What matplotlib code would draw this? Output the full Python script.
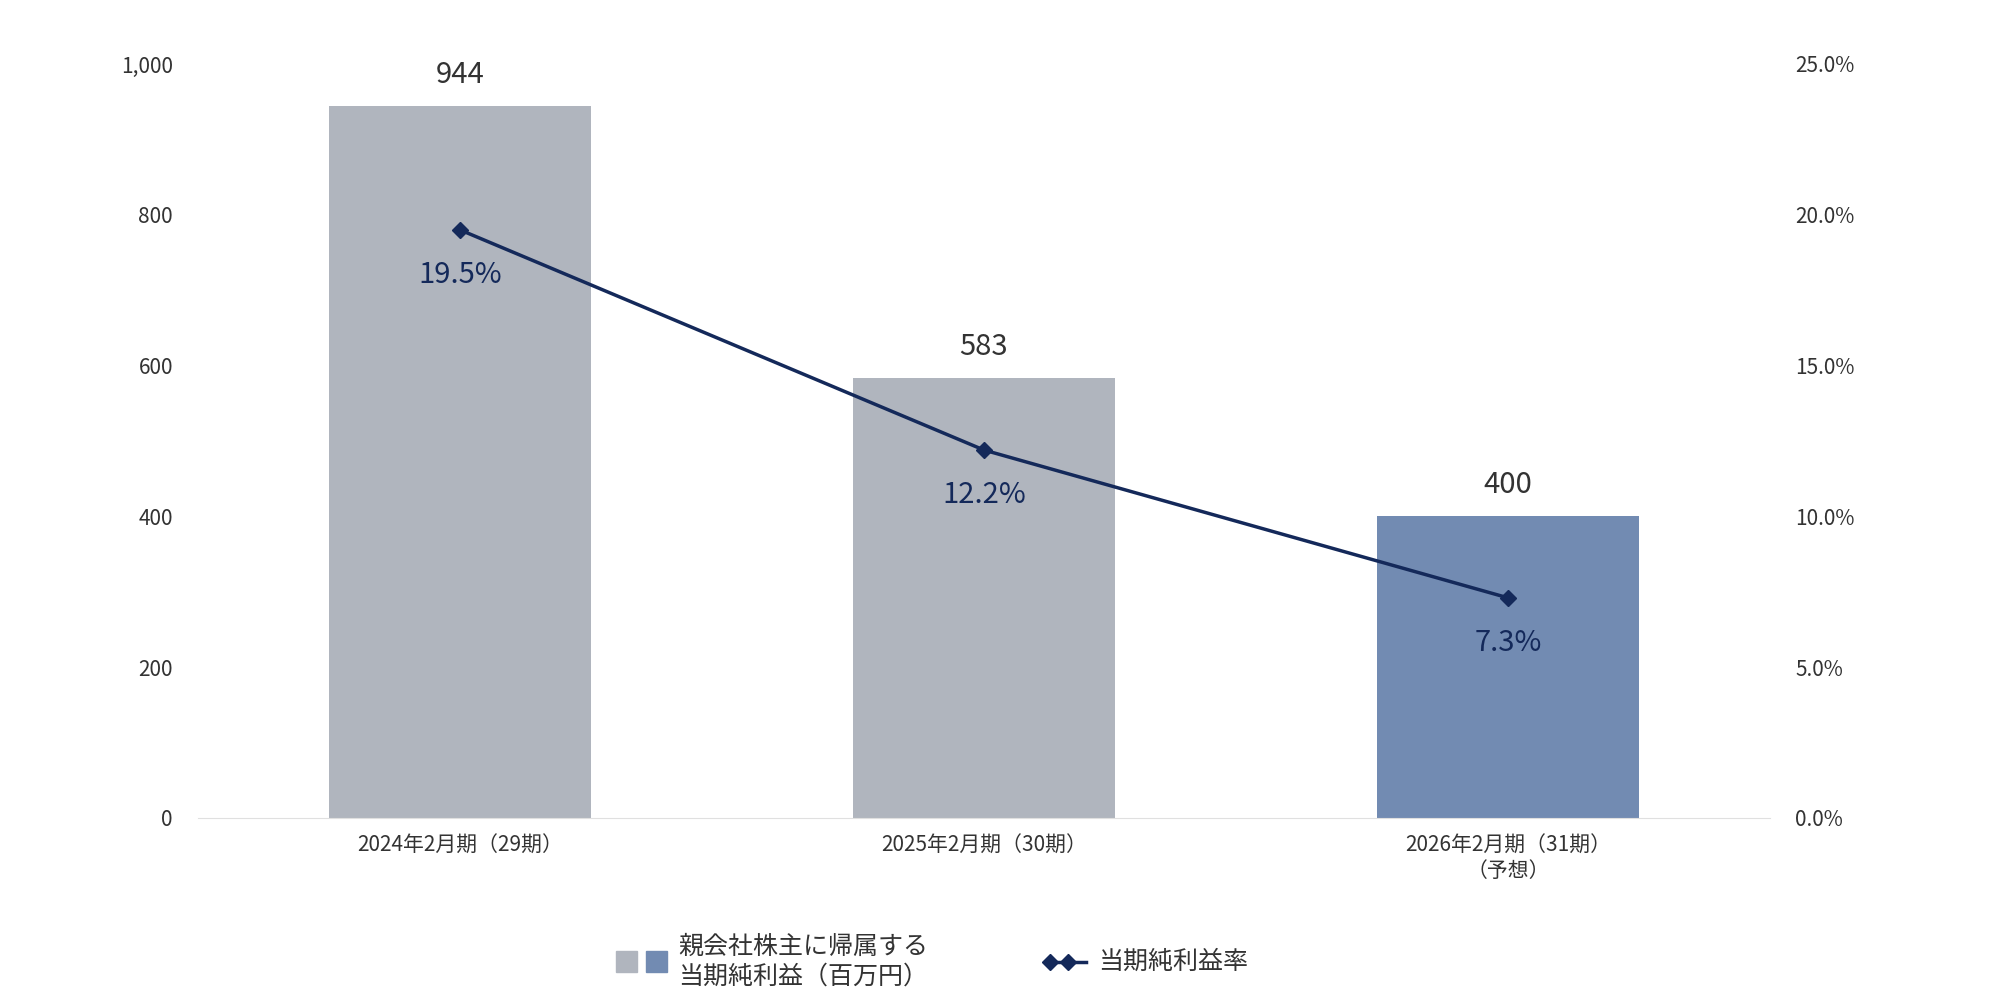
import matplotlib
matplotlib.use("Agg")
import matplotlib.pyplot as plt
from matplotlib.patches import Rectangle
from matplotlib.lines import Line2D

plt.rcParams["font.family"] = "Noto Sans CJK JP"

categories = ["2024年2月期（29期）", "2025年2月期（30期）", "2026年2月期（31期）\n（予想）"]
profit = [944, 583, 400]
rate = [19.5, 12.2, 7.3]
bar_colors = ["#b0b5be", "#b0b5be", "#728bb2"]
line_color = "#14295a"

fig = plt.figure(figsize=(20, 10), dpi=100)
ax = fig.add_axes([0.099, 0.182, 0.786, 0.754])
x = range(len(categories))
ax.bar(x, profit, width=0.5, color=bar_colors, zorder=2)
for i, v in enumerate(profit):
    ax.text(i, v + 22, f"{v:,}", ha="center", va="bottom", fontsize=21, color="#333333")
ax.set_xlim(-0.5, 2.5)
ax.set_ylim(0, 1000)
ax.set_yticks(range(0, 1001, 200))
ax.set_yticklabels([f"{v:,}" for v in range(0, 1001, 200)], fontsize=15, color="#333333")
ax.set_xticks(list(x))
ax.set_xticklabels(categories, fontsize=15, color="#333333")
for s in ["top", "right", "left"]:
    ax.spines[s].set_visible(False)
ax.spines["bottom"].set_color("#e0e0e0")
ax.tick_params(length=0, pad=18)
ax.tick_params(axis="x", pad=12)

ax2 = ax.twinx()
ax2.plot(list(x), rate, color=line_color, lw=2.5, marker="D", markersize=8, zorder=3)
for i, v in enumerate(rate):
    ax2.text(i, v - 1.0, f"{v}%", ha="center", va="top", fontsize=21, color=line_color)
ax2.set_ylim(0, 25)
ax2.set_yticks([0, 5, 10, 15, 20, 25])
ax2.set_yticklabels([f"{v:.1f}%" for v in [0, 5, 10, 15, 20, 25]], fontsize=15, color="#333333")
for s in ["top", "right", "left", "bottom"]:
    ax2.spines[s].set_visible(False)
ax2.tick_params(length=0, pad=18)

# legend
fig.patches.append(Rectangle((0.308, 0.028), 0.0105, 0.021, transform=fig.transFigure, color="#b0b5be"))
fig.patches.append(Rectangle((0.323, 0.028), 0.0105, 0.021, transform=fig.transFigure, color="#728bb2"))
fig.text(0.339, 0.038, "親会社株主に帰属する\n当期純利益（百万円）", fontsize=18, va="center", ha="left", color="#333333", linespacing=1.2)
fig.add_artist(Line2D([0.525, 0.543], [0.038, 0.038], transform=fig.transFigure, color=line_color, lw=2.5, marker="D", markersize=8, markevery=[0]))
fig.add_artist(Line2D([0.534], [0.038], transform=fig.transFigure, color=line_color, marker="D", markersize=8))
fig.text(0.549, 0.038, "当期純利益率", fontsize=18, va="center", ha="left", color="#333333")

fig.savefig("out.png")
